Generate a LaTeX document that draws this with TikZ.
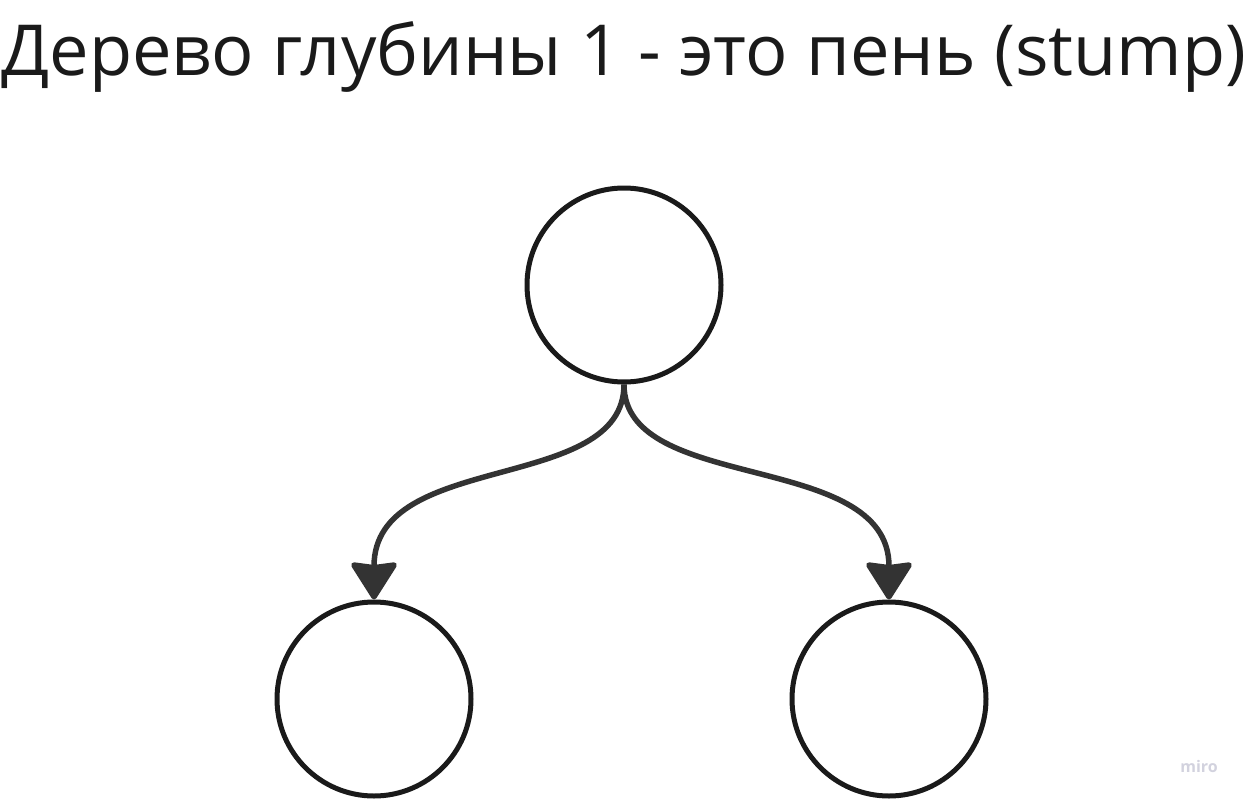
\documentclass[tikz,border=0pt]{standalone}
\usepackage{fontspec}
\setmainfont{Open Sans}
\usepackage{tikz}
\usetikzlibrary{positioning}
\usetikzlibrary{arrows.meta}
\usetikzlibrary{math}

\definecolor{nodeline}{HTML}{1A1A1A}
\definecolor{edgeline}{HTML}{333333}
\definecolor{miroGray}{HTML}{D2D2DE}

\tikzset{
  treenode/.style={circle, draw=nodeline, line width=5pt, minimum size=194pt, inner sep=0pt},
  treeedge/.style={draw=edgeline, line width=5.5pt,
    -{Stealth[length=40pt, width=50pt, inset=3pt, round]}},
}

\begin{document}
\begin{tikzpicture}[x=1pt, y=-1pt]
      \tikzmath{
        \w = 1248;
        \h = 800;
        \xRoot = 624;
        \yRoot = 285;
        \yLeaf = 699;
      }

      \useasboundingbox (0,0) rectangle (\w,\h);

      \node[anchor=base, font=\fontsize{70.4}{80}\selectfont, text=nodeline] (title) at (\xRoot, 75) {Дерево глубины 1 - это пень (stump)};

      \node[treenode] (root) at (\xRoot, \yRoot) {};
      \node[treenode] (leftleaf) at (374, \yLeaf) {};
      \node[treenode] (rightleaf) at (889, \yLeaf) {};

      \draw[treeedge] (root.south) .. controls +(0,110) and +(0,-150) .. (leftleaf.north);
      \draw[treeedge] (root.south) .. controls +(0,110) and +(0,-150) .. (rightleaf.north);

      \node[font=\fontsize{16}{18}\selectfont\bfseries, text=miroGray] (miro) at (1199, 766) {miro};
    \end{tikzpicture}
\end{document}
